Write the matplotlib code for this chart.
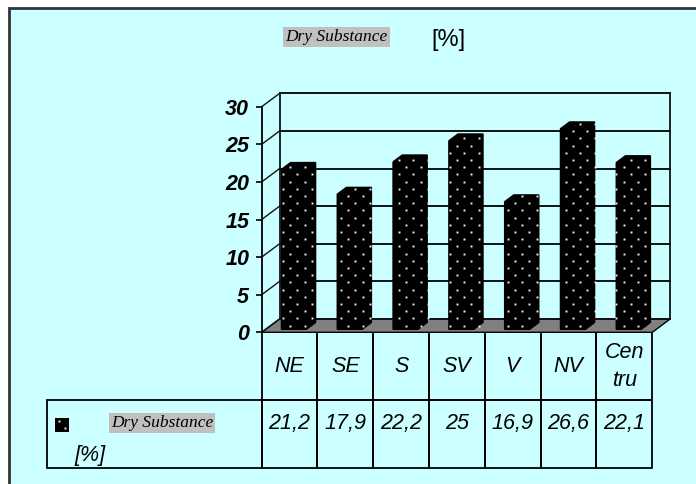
import matplotlib
matplotlib.use('Agg')
import matplotlib.pyplot as plt
import numpy as np
from matplotlib import font_manager
from matplotlib.patches import Polygon, Rectangle
from matplotlib.path import Path
from matplotlib.transforms import IdentityTransform

# Dry substance per region
regions = ['NE', 'SE', 'S', 'SV', 'V', 'NV', 'Cen\ntru']
dry_substance = [21.2, 17.9, 22.2, 25, 16.9, 26.6, 22.1]
y_ticks = [0, 5, 10, 15, 20, 25, 30]
series_name = 'Dry Substance'
unit = '[%]'

W, H = 696, 484
names = {f.name for f in font_manager.fontManager.ttflist}
sans = 'Liberation Sans Narrow' if 'Liberation Sans Narrow' in names else 'Liberation Sans'
serif = 'Liberation Serif'
fs = 16.5 if sans == 'Liberation Sans Narrow' else 15.5

bg = '#CCFFFF'
fig = plt.figure(figsize=(W / 100, H / 100), dpi=100, facecolor='white')


def fx(px):
    return px / W


def fy(py):
    return 1 - py / H


# chart area with dark frame
fig.add_artist(Rectangle((fx(9), fy(500)), 1.0, fy(7.5) - fy(500), transform=fig.transFigure,
                         facecolor=bg, edgecolor='#333333', lw=2.0, zorder=0))

# front plane of the 3D box: x in categories, y in %
left, right, bottom, top = 261.7, 652.3, 332.3, 106.7
ax = fig.add_axes([fx(left), fy(bottom), fx(right) - fx(left), fy(top) - fy(bottom)])
ax.patch.set_visible(False)
ax.set_xlim(0, len(regions))
ax.set_ylim(0, 30)
n = len(regions)

# depth offset of the back wall in data units
DX, DY = 0.32, 1.77

for s in ['top', 'right', 'bottom']:
    ax.spines[s].set_visible(False)
ax.spines['left'].set_linewidth(1.3)
ax.set_xticks([])
ax.set_yticks(y_ticks)
ax.tick_params(axis='y', direction='out', length=4, width=1.2, pad=5, labelsize=fs)
for lbl in ax.get_yticklabels():
    lbl.set_fontweight('bold')
    lbl.set_fontstyle('italic')
    lbl.set_family(sans)

# floor
ax.add_patch(Polygon([(0, 0), (n, 0), (n + DX, DY), (DX, DY)], closed=True,
                     facecolor='#808080', edgecolor='black', lw=1.0, clip_on=False, zorder=1))

# back wall gridlines and side wall diagonals
for v in y_ticks:
    ax.plot([DX, n + DX], [v + DY, v + DY], color='#111111', lw=1.4, clip_on=False, zorder=1.5)
    ax.plot([0, DX], [v, v + DY], color='#111111', lw=1.0, clip_on=False, zorder=1.5)
ax.plot([DX, DX], [DY, 30 + DY], color='#111111', lw=1.3, clip_on=False, zorder=1.5)
ax.plot([n + DX, n + DX], [DY, 30 + DY], color='#111111', lw=1.3, clip_on=False, zorder=1.5)

# dotted fill pattern in pixel space
gx, gy = np.meshgrid(np.arange(0, W, 14.5), np.arange(0, H, 7.2))
gx = gx + (np.arange(gx.shape[0])[:, None] % 2) * 7.25
lattice = np.column_stack([gx.ravel(), gy.ravel()])

# bars
d0, d1 = 0.25, 0.75
for i, v in enumerate(dry_substance):
    x0, x1 = i + 0.28, i + 0.72
    pts = [(x0 + d0 * DX, d0 * DY), (x0 + d0 * DX, v + d0 * DY), (x0 + d1 * DX, v + d1 * DY),
           (x1 + d1 * DX, v + d1 * DY), (x1 + d1 * DX, d1 * DY), (x1 + d0 * DX, d0 * DY)]
    ax.add_patch(Polygon(pts, closed=True, facecolor='black', edgecolor='black', lw=1.5,
                         joinstyle='round', clip_on=False, zorder=3))
    disp = ax.transData.transform(pts)
    inside = Path(disp).contains_points(lattice, radius=-2)
    ax.plot(lattice[inside, 0], lattice[inside, 1], 's', ms=1.4, mew=0, color='#eeeeee',
            transform=IdentityTransform(), clip_on=False, zorder=4)

# data table under the plot
cell_text = [[''] + [f'{v:g}'.replace('.', ',') + '\n' for v in dry_substance]]
tab_left, tab_bottom = 46.7, 468.3
ax_w, ax_h = right - left, bottom - top
tab = ax.table(cellText=cell_text, colLabels=[''] + regions,
               colWidths=[215] + [(right - left) / n] * n, cellLoc='center',
               bbox=[(tab_left - left) / ax_w, (bottom - tab_bottom) / ax_h,
                     (right - tab_left) / ax_w, (tab_bottom - bottom) / ax_h])
tab.auto_set_font_size(False)
for (r, c), cell in tab.get_celld().items():
    cell.set_facecolor('none')
    cell.set_edgecolor('black')
    cell.set_linewidth(1.3)
    cell.get_text().set(fontstyle='italic', family=sans, fontsize=fs, linespacing=1.0)
tab[0, n].get_text().set_linespacing(1.45)
tab[0, 0].visible_edges = 'open'

# legend inside the table
fig.add_artist(Rectangle((fx(55), fy(432)), fx(14), 14 / H, transform=fig.transFigure,
                         facecolor='black', edgecolor='none', zorder=5))
fig.add_artist(plt.Line2D([fx(59), fx(65)], [fy(421), fy(428)], ls='none', marker='s', ms=1.4,
                          mew=0, color='#eeeeee', transform=fig.transFigure, zorder=6))
fig.text(fx(162), fy(423), series_name, family=serif, fontstyle='italic', fontsize=12.5,
         ha='center', va='center', bbox=dict(boxstyle='square,pad=0.12', fc='#C0C0C0', ec='none'))
fig.text(fx(90), fy(455), unit, family=sans, fontstyle='italic', fontsize=fs,
         ha='center', va='center')

# title
fig.text(fx(336.7), fy(37), series_name, family=serif, fontstyle='italic', fontsize=12.5,
         ha='center', va='center', bbox=dict(boxstyle='square,pad=0.12', fc='#C0C0C0', ec='none'))
fig.text(fx(448), fy(40), unit, family=sans, fontsize=17, ha='center', va='center')

fig.savefig('out.png', dpi=100, facecolor=fig.get_facecolor())
